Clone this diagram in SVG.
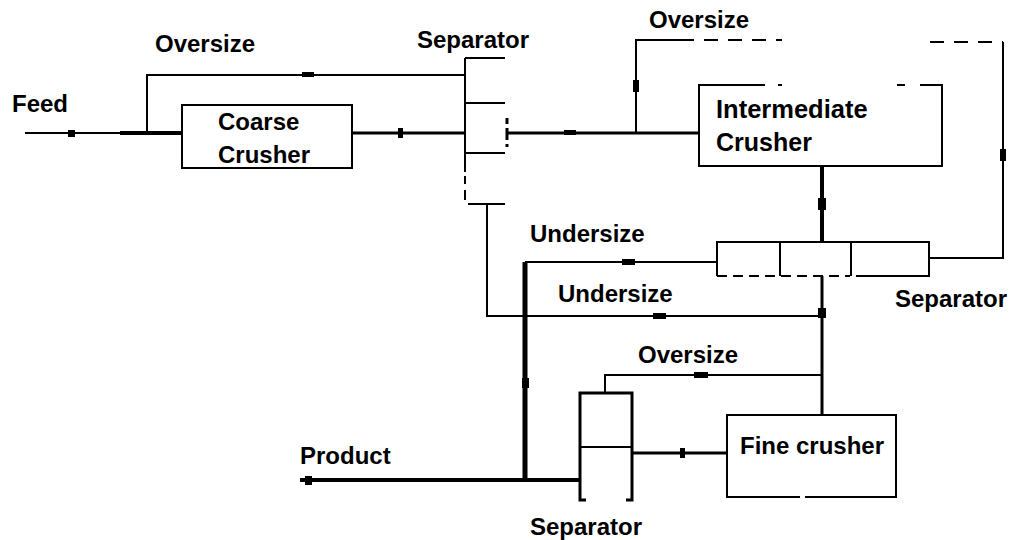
<svg xmlns="http://www.w3.org/2000/svg" width="1010" height="540" viewBox="0 0 1010 540">
<style>
.t{font-family:"Liberation Sans",Arial,sans-serif;font-weight:bold;font-size:24px;fill:#000}
.b{fill:none;stroke:#000;stroke-width:2}
.c{fill:none;stroke:#000;stroke-width:2}
.c3{fill:none;stroke:#000;stroke-width:3}
.c5{fill:none;stroke:#000;stroke-width:5}
.d{stroke-dasharray:14 10}
.m{fill:#000}
</style>
<rect width="1010" height="540" fill="#fff"/>
<g id="connectors">
  <path class="c" d="M25,133 H120"/>
  <path class="c5" d="M120,133 H182" style="stroke-width:4"/>
  <rect class="m" x="68" y="130" width="7" height="7"/>
  <path class="c" d="M147,133 V75 H465"/>
  <rect class="m" x="302" y="72" width="12" height="5"/>
  <path class="c3" d="M352,133 H465"/>
  <rect class="m" x="398" y="128" width="5" height="10"/>
  <path class="c3" d="M507,133 H699"/>
  <rect class="m" x="564" y="130" width="12" height="5"/>
  <path class="c" d="M636,133 V40 H680"/>
  <path class="c d" d="M680,40 H782"/>
  <rect class="m" x="633" y="80" width="6" height="12"/>
  <path class="c d" d="M930,42 H1003"/>
  <path class="c" d="M1003,42 V258 H929"/>
  <rect class="m" x="1000" y="149" width="6" height="12"/>
  <path class="c5" d="M822,166 V242" style="stroke-width:4"/>
  <rect class="m" x="818" y="198" width="8" height="12"/>
  <path class="c" d="M717,262 H525"/>
  <path class="c5" d="M525,262 V480"/>
  <rect class="m" x="622" y="259" width="13" height="6"/>
  <rect class="m" x="522" y="378" width="7" height="10"/>
  <path class="c" d="M487,204 V316 H822"/>
  <rect class="m" x="653" y="313" width="13" height="6"/>
  <path class="c3" d="M822,276 V415"/>
  <rect class="m" x="818" y="308" width="8" height="10"/>
  <path class="c" d="M605,393 V375 H822"/>
  <rect class="m" x="694" y="372" width="14" height="6"/>
  <path class="c3" d="M632,453 H727"/>
  <rect class="m" x="680" y="448" width="5" height="10"/>
  <path class="c3" d="M580,480 H300" style="stroke-width:4"/>
  <rect class="m" x="305" y="476" width="7" height="9"/>
</g>
<g id="feed"><text class="t" x="12" y="112">Feed</text></g>
<g id="oversize-1"><text class="t" x="155" y="52">Oversize</text></g>
<g id="coarse-crusher">
  <rect class="b" x="182" y="105" width="170" height="63"/>
  <text class="t" x="218" y="130">Coarse</text>
  <text class="t" x="218" y="163">Crusher</text>
</g>
<g id="separator-1">
  <path class="b" d="M465,58 V172"/>
  <path class="b" d="M465,176 V184 M465,190 V200"/>
  <path class="b" d="M465,58 H505 M465,103 H505 M465,153 H505 M468,204 H505"/>
  <path class="c3" d="M507,118 V124 M507,128 V140 M507,144 V147"/>
  <text class="t" x="417" y="48">Separator</text>
</g>
<g id="oversize-2"><text class="t" x="649" y="28">Oversize</text></g>
<g id="intermediate-crusher">
  <path class="b" d="M765,85 H699 V166 H942 V85 H920"/>
  <path class="b" d="M778,85 H782 M897,85 H905"/>
  <text class="t" x="716" y="118" style="font-size:25.5px">Intermediate</text>
  <text class="t" x="716" y="151" style="font-size:25px">Crusher</text>
</g>
<g id="separator-2">
  <path class="b" d="M717,276 V242 H929 V276 H856"/>
  <path class="b d" d="M717,276 H850" style="stroke-dasharray:10 6"/>
  <path class="b" d="M780,242 V276 M851,242 V276"/>
  <text class="t" x="895" y="307">Separator</text>
</g>
<g id="undersize-labels">
  <text class="t" x="530" y="242">Undersize</text>
  <text class="t" x="558" y="302">Undersize</text>
</g>
<g id="oversize-3"><text class="t" x="638" y="363">Oversize</text></g>
<g id="separator-3">
  <path class="c3" d="M586,500 H580 V393 H632 V500 H626"/>
  <path class="b" d="M580,447 H632"/>
  <text class="t" x="530" y="535">Separator</text>
</g>
<g id="fine-crusher">
  <path class="b" d="M805,497 H896 V415 H727 V497 H800"/>
  <text class="t" x="740" y="454">Fine crusher</text>
</g>
<g id="product"><text class="t" x="300" y="464">Product</text></g>
</svg>
